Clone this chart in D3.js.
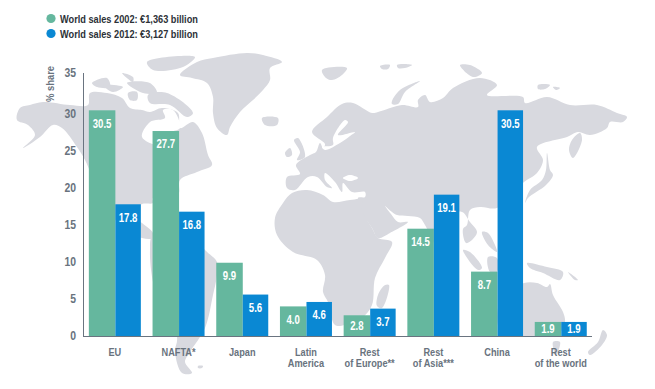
<!DOCTYPE html>
<html><head><meta charset="utf-8">
<script src="https://d3js.org/d3.v7.min.js"></script>
<style>html,body{margin:0;padding:0;background:#fff}svg{display:block}text{font-family:"Liberation Sans",sans-serif}</style>
</head><body><svg id="c" width="655" height="389"></svg>
<script>
const categories=[["EU"],["NAFTA*"],["Japan"],["Latin","America"],["Rest","of Europe**"],["Rest","of Asia***"],["China"],["Rest","of the world"]];
const values2002=[30.5,27.7,9.9,4.0,2.8,14.5,8.7,1.9];
const values2012=[17.8,16.8,5.6,4.6,3.7,19.1,30.5,1.9];
const yTicks=[0,5,10,15,20,25,30,35];
const legendLabels=["World sales 2002: €1,363 billion","World sales 2012: €3,127 billion"];
const seriesColors=["#65b79e","#0a88d3"];
const mapLand=[
[[17,120],[20,108],[30,105],[43,102],[70,105],[88,105],[90,93],[107,93],[122,98],[130,108],[142,110],[150,112],[162,108],[178,113],[180,128],[193,122],[202,133],[208,155],[212,165],[197,172],[180,180],[178,195],[153,198],[153,203],[142,204],[130,215],[142,223],[153,233],[153,238],[142,238],[120,225],[100,195],[85,160],[77,147],[62,128],[53,125],[40,137],[23,148],[35,135],[28,125]],
[[180,75],[197,62],[213,58],[247,53],[263,55],[282,62],[270,68],[270,80],[263,90],[253,100],[240,112],[230,127],[227,135],[217,128],[213,113],[213,97],[207,83],[192,78]],
[[147,62],[195,57],[183,67],[153,70]],[[92,83],[107,78],[110,87],[97,87]],[[103,85],[123,87],[113,92]],[[122,73],[133,77],[133,82]],
[[127,83],[150,83],[157,93],[143,93]],[[128,93],[137,92],[137,100],[130,100]],[[148,95],[167,93],[193,113],[187,117],[170,105],[150,103]],
[[153,235],[190,232],[205,250],[217,262],[217,275],[213,295],[205,328],[190,352],[185,362],[192,373],[182,373],[175,352],[177,337],[155,290],[150,250]],
[[198,366],[203,366],[202,368],[198,368]],
[[262,118],[278,118],[277,125],[265,125]],[[294,140],[298,138],[305,157],[297,160],[300,152]],[[285,153],[290,148],[292,155],[287,157]],
[[322,70],[347,68],[342,75],[332,80],[326,78]],[[392,101],[400,90],[420,81],[405,92],[398,104],[392,104]],[[380,66],[390,65],[388,69],[382,69]],[[397,65],[403,64],[412,65],[405,68],[398,68]],[[460,65],[470,65],[482,73],[473,77]],[[538,85],[550,85],[545,89],[538,89]],[[553,87],[560,88],[556,90]],
[[287,177],[300,174],[296,165],[310,155],[316,152],[320,143],[323,148],[325,144],[312,132],[327,117],[342,104],[353,103],[372,113],[378,112],[402,105],[418,107],[418,100],[425,95],[430,102],[443,98],[453,88],[480,78],[497,85],[487,95],[523,97],[525,103],[547,97],[570,105],[597,105],[617,113],[627,117],[623,122],[610,122],[607,128],[590,135],[578,132],[567,137],[537,147],[543,160],[537,173],[524,182],[515,190],[497,208],[480,207],[470,210],[467,225],[463,229],[466,243],[472,240],[477,232],[470,222],[462,212],[450,215],[440,250],[425,225],[420,218],[408,216],[397,215],[392,212],[385,206],[391,214],[398,222],[408,222],[390,233],[378,238],[372,228],[360,210],[358,198],[365,197],[365,192],[352,192],[343,183],[342,192],[335,182],[325,173],[325,180],[332,188],[327,187],[317,177],[308,177],[295,190],[287,188]],
[[292,193],[307,190],[323,195],[333,202],[350,200],[362,200],[362,210],[372,228],[378,238],[392,242],[385,258],[375,278],[372,305],[362,318],[345,325],[335,325],[328,302],[323,292],[325,275],[317,260],[293,252],[277,235],[275,218],[283,203]],
[[385,285],[389,285],[382,308],[377,306],[378,295]],
[[580,133],[582,140],[573,158],[569,150],[572,140]],[[547,153],[550,170],[553,175],[546,185],[528,198],[525,203],[530,190],[542,180],[546,170]],
[[463,250],[470,252],[482,268],[478,270]],[[488,257],[497,258],[497,272],[490,272]],[[482,232],[488,233],[495,245],[497,252],[488,245]],
[[527,263],[547,267],[563,272],[560,280],[543,273],[530,268]],[[568,272],[578,280],[575,280]],
[[500,300],[505,295],[524,283],[537,283],[547,287],[550,284],[553,295],[563,312],[565,322],[560,332],[530,336],[500,330]],
[[553,342],[560,342],[556,355]],[[603,330],[607,335],[602,345],[590,355],[588,352],[598,342]]
];
const mapWater=[
[[142,137],[150,122],[165,118],[163,110],[173,110],[180,128],[172,132],[160,145]],
[[345,120],[348,122],[338,135],[355,132],[350,136],[340,143],[325,150],[322,147],[333,145],[333,138]],
[[343,178],[350,175],[358,178],[350,181]]
];

const svg=d3.select("#c");
const line=d3.line().curve(d3.curveCatmullRomClosed.alpha(.5));
svg.append("g").selectAll("path").data(mapLand).join("path").attr("d",line).attr("fill","#d8d9df");
svg.append("g").selectAll("path").data(mapWater).join("path").attr("d",line).attr("fill","#fff");

// no condensed face is installed: squeeze the real text to the reference's width
function narrow(sel,k){sel.each(function(){const n=this.getComputedTextLength();d3.select(this).attr("textLength",n*k).attr("lengthAdjust","spacingAndGlyphs");});}

const x=d3.scaleBand().domain(d3.range(categories.length)).range([83,592.6]).paddingInner(.1837).paddingOuter(.0918);
const y=d3.scaleLinear().domain([0,35]).range([336,77]);
const split=d3.scaleLinear().domain([0,1]).range([0,x.bandwidth()]);
const gridText="#69737e";

const series=[values2002,values2012];
series.forEach((vals,s)=>{
  const x0=i=>x(i)+split(s===0?0:.51), x1=i=>x(i)+split(s===0?.51:1);
  const g=svg.append("g");
  g.selectAll("rect").data(vals).join("rect")
    .attr("x",(d,i)=>x0(i)).attr("width",(d,i)=>x1(i)-x0(i))
    .attr("y",d=>y(d)).attr("height",d=>y(0)-y(d)).attr("fill",seriesColors[s]);
  g.selectAll("text").data(vals).join("text")
    .attr("x",(d,i)=>(x0(i)+x1(i))/2)
    .attr("y",d=>y(d)+Math.min(13,(y(0)-y(d))*.5))
    .attr("dy","0.36em").attr("text-anchor","middle")
    .attr("fill","#fff").attr("font-size",12).attr("font-weight","bold")
    .text(d=>d.toFixed(1)).call(narrow,.8);
});

const yAxis=d3.axisLeft(y).tickValues(yTicks).tickSize(0).tickPadding(7);
const gy=svg.append("g").attr("transform","translate(83,0)").call(yAxis);
gy.select(".domain").remove();
gy.selectAll("text").attr("fill",gridText).attr("font-size",13).attr("font-weight","bold")
  .style("font-family",'"Liberation Sans"')
  .attr("dy",d=>d===35?"-0.05em":"0.3em").call(narrow,.8);
svg.append("line").attr("x1",83.5).attr("x2",83.5).attr("y1",73).attr("y2",y(0)).attr("stroke","#6a7480").attr("stroke-width",1);
svg.append("line").attr("x1",83).attr("x2",592).attr("y1",y(0)+.5).attr("y2",y(0)+.5).attr("stroke","#6a7480").attr("stroke-width",1);

svg.append("text").attr("transform","translate(54,84) rotate(-90)").attr("text-anchor","middle")
  .attr("fill",gridText).attr("font-size",11.5).attr("font-weight","bold").text("% share").call(narrow,.82);

const cat=svg.append("g").selectAll("text").data(categories).join("text")
  .attr("text-anchor","middle").attr("fill",gridText).attr("font-size",11.5).attr("font-weight","bold")
  .attr("transform",(d,i)=>`translate(${x(i)+x.bandwidth()/2},356)`);
cat.selectAll("tspan").data(d=>d).join("tspan").attr("x",0).attr("y",(d,i)=>i*11.2).text(d=>d).call(narrow,.8);

const leg=svg.append("g").selectAll("g").data(legendLabels).join("g").attr("transform",(d,i)=>`translate(51,${18.5+i*15})`);
leg.append("circle").attr("r",4.6).attr("fill",(d,i)=>seriesColors[i]);
leg.append("text").attr("x",9).attr("dy","0.35em").attr("fill","#2c3137").attr("font-size",11.5).attr("font-weight","bold").text(d=>d).call(narrow,.8);
</script></body></html>
